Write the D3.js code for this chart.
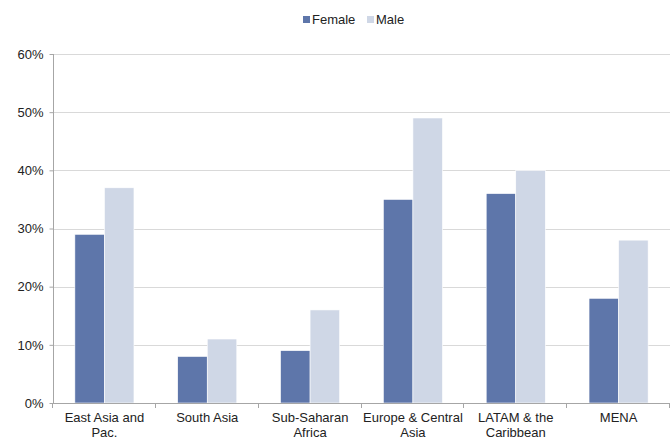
<!DOCTYPE html>
<html>
<head>
<meta charset="utf-8">
<script src="https://cdn.jsdelivr.net/npm/d3@7"></script>
<style>
  body { margin: 0; background: #fff; }
  svg { display: block; font-family: "Liberation Sans", Arial, sans-serif; }
</style>
</head>
<body>
<svg id="chart" width="672" height="441"></svg>
<script>
// Regions (two-line labels split with "\n")
const categories = ["East Asia and\nPac.", "South Asia", "Sub-Saharan\nAfrica", "Europe & Central\nAsia", "LATAM & the\nCaribbean", "MENA"];
const seriesNames = ["Female", "Male"];
const female = [29, 8, 9, 35, 36, 18];
const male = [37, 11, 16, 49, 40, 28];
const yTicks = [0, 10, 20, 30, 40, 50, 60];
const colors = ["#5E76AA", "#CFD7E6"];

const svg = d3.select("#chart");
const margin = { left: 53, right: 2, top: 54, bottom: 38 };
const W = 672, H = 441;
const x0 = margin.left, x1 = W - margin.right;
const yTop = margin.top, yBot = H - margin.bottom;

const x = d3.scaleBand().domain(categories).range([x0, x1]).paddingInner(0).paddingOuter(0);
const xs = d3.scaleBand().domain(seriesNames).range([0, x.bandwidth()]).paddingInner(0).paddingOuter(0.74);
const y = d3.scaleLinear().domain([0, 60]).range([yBot, yTop]);

// Gridlines
svg.append("g").selectAll("line").data(yTicks.filter(d => d > 0)).join("line")
  .attr("x1", x0).attr("x2", x1)
  .attr("y1", d => Math.round(y(d)) + 0.5).attr("y2", d => Math.round(y(d)) + 0.5)
  .attr("stroke", "#d9d9d9").attr("stroke-width", 1);

// Bars
const data = categories.map((c, i) => ({ c, vals: [female[i], male[i]] }));
const groups = svg.append("g").selectAll("g").data(data).join("g")
  .attr("transform", d => `translate(${x(d.c)},0)`);
groups.selectAll("rect").data(d => d.vals.map((v, j) => ({ s: seriesNames[j], v, j }))).join("rect")
  .attr("x", d => xs(d.s))
  .attr("width", xs.bandwidth())
  .attr("y", d => y(d.v))
  .attr("height", d => y(0) - y(d.v))
  .attr("fill", d => colors[d.j])
  .attr("stroke", "#ffffff").attr("stroke-width", 0.6);

// Y axis
const yAxis = d3.axisLeft(y).tickValues(yTicks).tickFormat(d => d + "%").tickSize(4).tickPadding(6);
const gy = svg.append("g").attr("transform", `translate(${x0 + 0.5},0)`).call(yAxis);
gy.select(".domain").attr("stroke", "#a6a6a6").attr("d", `M0,${yTop}V${yBot}`);
gy.selectAll(".tick line").attr("stroke", "#a6a6a6");
gy.selectAll(".tick text").attr("font-size", 13).attr("fill", "#222")
  .attr("font-family", "Liberation Sans, Arial, sans-serif");

// X axis: baseline with tick marks at category boundaries
const gx = svg.append("g");
gx.append("line").attr("x1", x0).attr("x2", x1)
  .attr("y1", Math.round(y(0)) + 0.5).attr("y2", Math.round(y(0)) + 0.5)
  .attr("stroke", "#a6a6a6");
const bounds = categories.map(c => x(c)).concat([x1]);
gx.selectAll("line.b").data(bounds).join("line").attr("class", "b")
  .attr("x1", d => Math.round(d) - 0.5).attr("x2", d => Math.round(d) - 0.5)
  .attr("y1", Math.round(y(0))).attr("y2", Math.round(y(0)) + 5)
  .attr("stroke", "#a6a6a6");

// Category labels
const labels = svg.append("g").attr("font-size", 13).attr("fill", "#222").attr("text-anchor", "middle");
categories.forEach(c => {
  const t = labels.append("text")
    .attr("x", x(c) + x.bandwidth() / 2)
    .attr("y", yBot + 19);
  c.split("\n").forEach((line, k) => {
    t.append("tspan").attr("x", x(c) + x.bandwidth() / 2).attr("dy", k === 0 ? 0 : 15).text(line);
  });
});

// Legend
const legend = svg.append("g").attr("font-size", 13).attr("fill", "#222");
const legItems = [{ name: "Female", x: 303 }, { name: "Male", x: 367 }];
legItems.forEach((it, i) => {
  legend.append("rect").attr("x", it.x).attr("y", 16).attr("width", 7).attr("height", 7).attr("fill", colors[i]);
  legend.append("text").attr("x", it.x + 9).attr("y", 24).text(it.name);
});
</script>
</body>
</html>
